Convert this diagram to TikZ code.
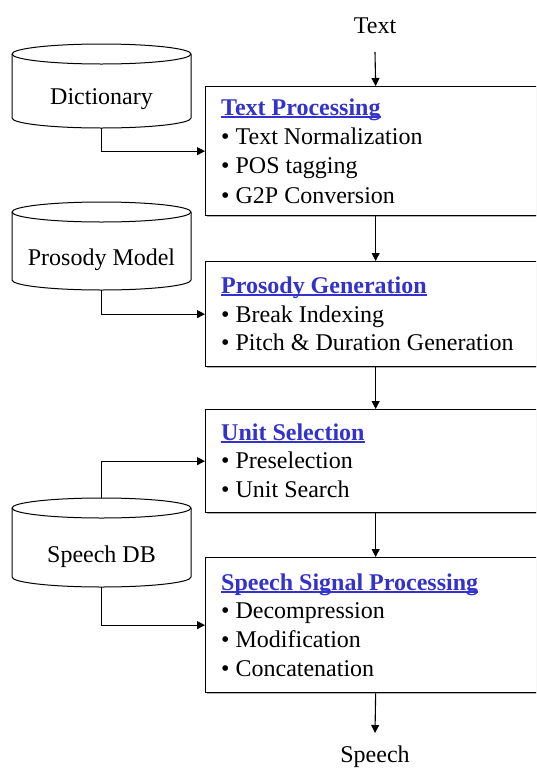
\documentclass[tikz,border=0pt]{standalone}
\usepackage{fontspec}
\setmainfont{Liberation Serif}
\usetikzlibrary{arrows.meta}
\definecolor{ttl}{RGB}{51,51,204}
\newcommand\ttlul[1]{\setbox0\hbox{#1}\rlap{\color{ttl}\rule[-2.8pt]{\wd0}{1.4pt}}\box0}
\tikzset{
  txt/.style={font=\fontsize{24}{29}\selectfont, inner sep=0pt, anchor=base west},
  ttltxt/.style={txt, font=\fontsize{24}{29}\selectfont\bfseries, text=ttl},
  lbl/.style={font=\fontsize{24}{29}\selectfont, inner sep=0pt, anchor=base},
  stagebox/.style={draw=black, line width=1.3pt, fill=white, minimum width=340pt, anchor=north west, inner sep=0pt},
  arr/.style={line width=1.1pt, -{Triangle[length=8pt,width=8pt]}},
  cylline/.style={line width=1pt, draw=black}
}
\begin{document}
\begin{tikzpicture}[x=1pt,y=1pt]
\useasboundingbox (0,0) rectangle (536,-769);
\clip (0,0) rectangle (536,-769);
\fill[white] (0,0) rectangle (536,-769);

% stage boxes (shadows)
\foreach \t/\h in {86/129, 261/105, 409/103, 557/135}{
  \fill[gray!60] (206.5,-\t-1.5) rectangle ++(340,-\h);
}
\node[stagebox, minimum height=129pt] (b1) at (205,-86) {};
\node[stagebox, minimum height=105pt] (b2) at (205,-261) {};
\node[stagebox, minimum height=103pt] (b3) at (205,-409) {};
\node[stagebox, minimum height=135pt] (b4) at (205,-557) {};

% box texts
\node[ttltxt] (t1) at (221,-115) {\ttlul{Text Processing}};
\node[txt] (t1a) at (221,-144) {• Text Normalization};
\node[txt] (t1b) at (221,-173) {• POS tagging};
\node[txt] (t1c) at (221,-203) {• G2P Conversion};

\node[ttltxt] (t2) at (221,-293) {\ttlul{Prosody Generation}};
\node[txt] (t2a) at (221,-322) {• Break Indexing};
\node[txt] (t2b) at (221,-350) {• Pitch \& Duration Generation};

\node[ttltxt] (t3) at (221,-440) {\ttlul{Unit Selection}};
\node[txt] (t3a) at (221,-468) {• Preselection};
\node[txt] (t3b) at (221,-497) {• Unit Search};

\node[ttltxt] (t4) at (221,-590) {\ttlul{Speech Signal Processing}};
\node[txt] (t4a) at (221,-618) {• Decompression};
\node[txt] (t4b) at (221,-647) {• Modification};
\node[txt] (t4c) at (221,-676) {• Concatenation};

% input / output labels
\node[lbl] (in) at (375,-33) {Text};
\node[lbl] (out) at (375,-762) {Speech};
\coordinate (inA) at (375,-52);
\coordinate (outA) at (375,-733);

% cylinders
\foreach \ct/\cb in {54/118, 212/280, 508/577}{
  \fill[white] (12,-\ct) -- (12,-\cb) arc[start angle=180,end angle=360,x radius=89.5pt,y radius=10pt] -- (191,-\ct) -- cycle;
  \draw[cylline] (12,-\ct) -- (12,-\cb) arc[start angle=180,end angle=360,x radius=89.5pt,y radius=10pt] -- (191,-\ct);
  \draw[cylline, fill=white] (101.5,-\ct) ellipse [x radius=89.5pt, y radius=10pt];
}
\node[lbl] (dict) at (101.5,-104) {Dictionary};
\node[lbl] (pm) at (101.5,-265) {Prosody Model};
\node[lbl] (sdb) at (101.5,-562) {Speech DB};
\coordinate (dictB) at (101.5,-128);
\coordinate (pmB) at (101.5,-290);
\coordinate (sdbT) at (101.5,-498);
\coordinate (sdbB) at (101.5,-587);

% main flow
\draw[arr] (inA) -- (b1.north);
\draw[arr] (b1.south) -- (b2.north);
\draw[arr] (b2.south) -- (b3.north);
\draw[arr] (b3.south) -- (b4.north);
\draw[arr] (b4.south) -- (outA);

% resource connectors
\draw[arr] (dictB) |- (b1.west);
\draw[arr] (pmB) |- (b2.west);
\draw[arr] (sdbT) |- (b3.west);
\draw[arr] (sdbB) |- (b4.west);
\end{tikzpicture}
\end{document}
